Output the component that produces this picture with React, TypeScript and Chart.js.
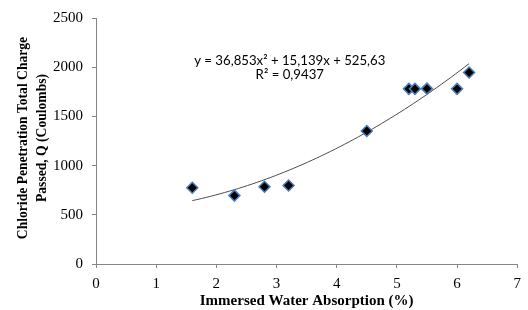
import React, { useEffect, useRef } from "react";
import { Chart, registerables } from "chart.js";

Chart.register(...registerables);

const absorption = [1.6, 2.3, 2.8, 3.2, 4.5, 5.2, 5.3, 5.5, 6.0, 6.2];
const charge = [775, 695, 785, 798, 1352, 1780, 1780, 1782, 1780, 1946];
const trendCoefficients = [36.853, 15.139, 525.63]; // a, b, c
const trendRange = [1.6, 6.2];
const equationLines = ["y = 36,853x\u00B2 + 15,139x + 525,63", "R\u00B2 = 0,9437"];
const xTitle = "Immersed Water Absorption (%)";
const yTitleLines = ["Chloride Penetration Total Charge", "Passed, Q (Coulombs)"];

const SERIF = "'Liberation Serif', serif";

export default function App() {
  const ref = useRef<HTMLCanvasElement | null>(null);

  useEffect(() => {
    document.body.style.margin = "0";
    const canvas = ref.current;
    if (!canvas) return;

    Chart.defaults.font.family = SERIF;

    const [a, b, c] = trendCoefficients;
    const trend: { x: number; y: number }[] = [];
    const steps = 60;
    for (let i = 0; i <= steps; i++) {
      const x = trendRange[0] + ((trendRange[1] - trendRange[0]) * i) / steps;
      trend.push({ x, y: a * x * x + b * x + c });
    }

    const overlay = {
      id: "overlay",
      afterDraw(chart: any) {
        const ctx = chart.ctx;
        const xs = chart.scales.x;
        const ys = chart.scales.y;
        ctx.save();
        ctx.fillStyle = "#000";
        ctx.font = "13.2px Lato, sans-serif";
        ctx.textAlign = "center";
        ctx.textBaseline = "middle";
        const ex = xs.getPixelForValue(3.22);
        ctx.fillText(equationLines[0], ex, ys.getPixelForValue(2070));
        ctx.fillText(equationLines[1], ex, ys.getPixelForValue(1920));
        ctx.font = "bold 13.6px " + SERIF;
        ctx.translate(0, 138);
        ctx.rotate(-Math.PI / 2);
        ctx.fillText(yTitleLines[0], 0, 23);
        ctx.fillText(yTitleLines[1], 0, 42);
        ctx.restore();
      },
    };

    const tickFont = { family: SERIF, size: 15 };

    const chart = new Chart(canvas, {
      type: "scatter",
      data: {
        datasets: [
          {
            type: "line",
            data: trend,
            borderColor: "#4d4d4d",
            borderWidth: 1,
            pointRadius: 0,
            fill: false,
            order: 2,
          } as any,
          {
            data: absorption.map((x, i) => ({ x, y: charge[i] })),
            pointStyle: "rectRot",
            pointRadius: 5.5,
            backgroundColor: "#000000",
            borderColor: "#4a7ebb",
            borderWidth: 1.5,
            order: 1,
          },
        ],
      },
      options: {
        animation: false,
        responsive: false,
        events: [],
        layout: { padding: { top: 16, right: 8, left: 0, bottom: 0 } },
        plugins: { legend: { display: false }, tooltip: { enabled: false } },
        scales: {
          x: {
            type: "linear",
            min: 0,
            max: 7,
            ticks: {
              stepSize: 1,
              color: "#000",
              padding: 7,
              font: tickFont,
              callback: (v: any) => String(v),
            },
            grid: { drawOnChartArea: false, drawTicks: true, tickLength: 4, color: "#868686" },
            border: { display: true, color: "#868686" },
            title: {
              display: true,
              text: xTitle,
              color: "#000",
              padding: 0,
              font: { family: SERIF, size: 15, weight: "bold" },
            },
            afterFit(scale: any) {
              scale.height = 46;
            },
          },
          y: {
            type: "linear",
            min: 0,
            max: 2500,
            ticks: {
              stepSize: 500,
              color: "#000",
              padding: 9,
              font: tickFont,
              callback: (v: any) => String(v),
            },
            grid: { drawOnChartArea: false, drawTicks: true, tickLength: 4, color: "#868686" },
            border: { display: true, color: "#868686" },
            afterFit(scale: any) {
              scale.width = 96;
            },
          },
        },
      },
      plugins: [overlay],
    });

    return () => chart.destroy();
  }, []);

  return <canvas ref={ref} width={528} height={310} style={{ display: "block" }} />;
}
